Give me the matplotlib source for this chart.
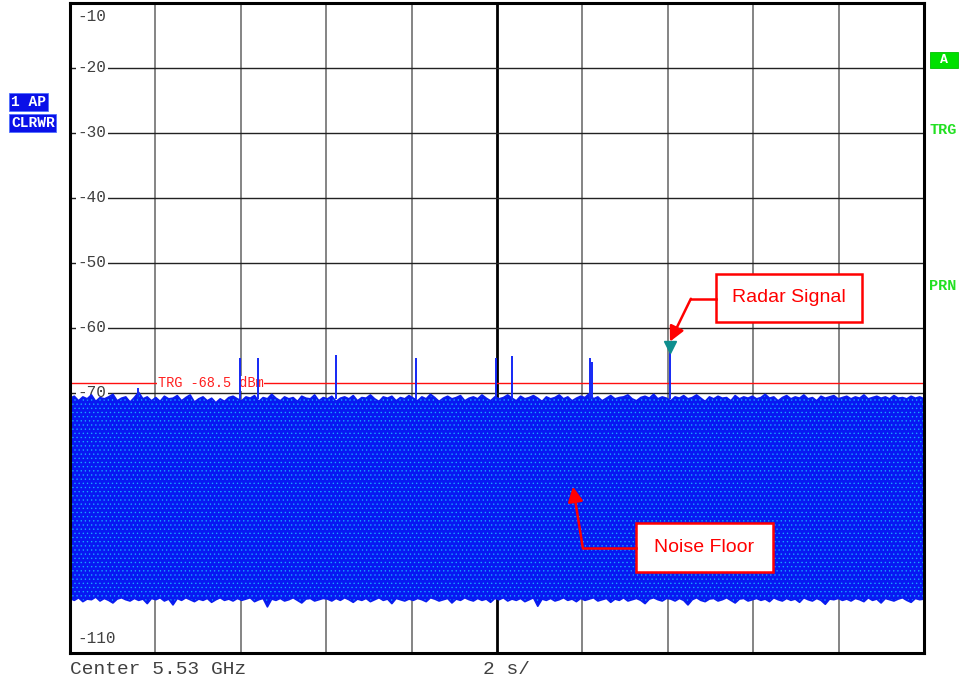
import numpy as np
import matplotlib
matplotlib.use("Agg")
import matplotlib.pyplot as plt
from matplotlib.patches import Rectangle

# ---------------- data ----------------
y_ticks = [-10, -20, -30, -40, -50, -60, -70, -80, -90, -100, -110]
y_tick_labels = ["-10", "-20", "-30", "-40", "-50", "-60", "-70", "-80", "-90", "-100", "-110"]
trigger_level = -68.5

noise_upper = [
    -70.8,-70.5,-71.2,-70.6,-70.9,-70.3,-71.3,-70.7,-70.9,-70.6,-70.2,-71.2,-70.8,-70.6,-71.4,-70.7,-69.9,-70.9,-70.6,-71.2,
    -70.7,-71.3,-70.5,-70.9,-70.8,-70.4,-71.2,-70.7,-70.3,-71.4,-70.9,-70.6,-71.2,-70.8,-71.5,-70.9,-71.3,-70.7,-70.5,-70.9,
    -71.2,-70.6,-70.8,-70.4,-71.3,-70.7,-70.9,-70.2,-70.8,-71.2,-70.6,-70.9,-70.7,-71.3,-70.5,-70.8,-70.9,-70.3,-71.2,-70.7,
    -70.9,-70.5,-71.3,-70.8,-70.6,-70.9,-70.4,-71.2,-70.7,-70.8,-70.3,-70.9,-71.3,-70.6,-70.8,-70.5,-71.2,-70.7,-70.9,-70.4,
    -70.8,-71.2,-70.6,-70.9,-70.2,-70.7,-71.3,-70.8,-70.5,-70.9,-70.7,-70.4,-71.2,-70.8,-70.6,-70.9,-70.3,-70.8,-71.2,-70.6,
    -70.9,-70.7,-70.3,-70.8,-71.2,-70.5,-70.9,-70.7,-70.4,-70.8,-71.3,-70.6,-70.9,-70.7,-70.3,-70.9,-70.6,-71.2,-70.8,-70.5,
    -70.7,-70.1,-70.9,-70.6,-71.2,-70.8,-70.4,-70.9,-70.7,-70.6,-70.3,-70.9,-71.2,-70.7,-70.5,-70.8,-70.2,-70.9,-70.6,-70.8,
    -71.2,-70.6,-70.8,-70.4,-70.9,-70.7,-70.3,-70.8,-71.3,-70.6,-70.9,-70.5,-70.8,-70.7,-71.2,-70.4,-70.9,-70.6,-70.8,-70.5,
    -70.9,-70.7,-70.2,-70.8,-70.6,-71.2,-70.7,-70.4,-70.9,-70.6,-70.8,-70.3,-70.9,-70.7,-71.2,-70.5,-70.8,-70.6,-70.4,-70.9,
    -70.7,-70.5,-70.9,-70.6,-70.8,-70.3,-70.9,-70.7,-70.5,-70.8,-70.6,-70.9,-70.4,-70.8,-70.7,-70.9,-70.5,-70.8,-70.6,-70.9,
]
noise_lower = [
    -101.6,-101.9,-101.5,-102.1,-101.7,-101.8,-101.4,-102.0,-101.6,-101.9,-102.3,-101.7,-101.5,-101.8,-102.0,-101.6,-101.9,-101.7,-102.4,-101.6,
    -101.8,-101.5,-102.0,-101.7,-102.6,-101.6,-101.9,-101.5,-101.8,-102.1,-101.7,-101.9,-101.6,-102.2,-101.8,-101.5,-101.9,-101.7,-102.0,-101.6,
    -101.9,-101.7,-101.5,-102.1,-101.8,-101.6,-102.9,-101.7,-101.9,-101.6,-102.0,-101.8,-101.5,-101.9,-102.3,-101.7,-101.6,-102.0,-101.8,-101.6,
    -101.7,-102.0,-101.6,-101.9,-101.5,-101.8,-102.2,-101.7,-101.9,-101.6,-102.1,-101.8,-101.5,-101.9,-101.7,-102.4,-101.6,-101.8,-102.0,-101.7,
    -101.9,-101.6,-101.8,-102.1,-101.5,-101.7,-102.0,-101.8,-101.6,-102.3,-101.7,-101.9,-101.5,-101.8,-102.0,-101.6,-101.9,-101.7,-102.2,-101.6,
    -101.8,-101.5,-102.0,-101.7,-101.9,-101.6,-102.1,-101.8,-101.5,-102.8,-101.7,-101.9,-101.6,-102.0,-101.8,-101.5,-101.9,-101.7,-102.1,-101.6,
    -101.9,-101.7,-101.5,-102.0,-101.8,-101.6,-102.2,-101.7,-101.9,-101.5,-102.0,-101.8,-101.6,-101.9,-102.4,-101.7,-101.5,-101.8,-102.0,-101.6,
    -101.7,-102.0,-101.6,-101.9,-102.6,-101.8,-101.5,-101.9,-102.1,-101.7,-101.6,-102.0,-101.8,-101.5,-101.9,-102.3,-101.7,-101.6,-102.0,-101.8,
    -101.6,-101.9,-101.7,-102.1,-101.5,-101.8,-102.0,-101.6,-101.9,-101.7,-102.2,-101.5,-101.8,-102.0,-101.6,-101.9,-102.5,-101.7,-101.8,-101.6,
    -101.9,-101.7,-102.0,-101.6,-101.8,-102.1,-101.5,-101.9,-101.7,-102.3,-101.6,-101.8,-102.0,-101.7,-101.5,-101.9,-102.2,-101.6,-101.8,-101.7,
]

spike_times = [1.59, 3.98, 4.40, 6.23, 8.10, 9.98, 10.35, 12.18, 12.22, 14.05]
spike_peaks = [-69.2, -64.6, -64.6, -64.1, -64.6, -64.6, -64.3, -64.6, -65.3, -63.6]
marker_time = 14.05
marker_level = -63.6

# ---------------- figure ----------------
W, H = 963, 683
fig = plt.figure(figsize=(W / 100, H / 100), dpi=100)
fig.patch.set_facecolor("white")
ax = fig.add_axes([70 / W, (H - 653) / H, 854 / W, 650 / H])
ax.set_xlim(0, 20)
ax.set_ylim(-110, -10)
ax.set_xticks([])
ax.set_yticks([])
for s in ax.spines.values():
    s.set_linewidth(2.2)
    s.set_color("black")
    s.set_zorder(10)

mono = "Liberation Mono"
sans = "Liberation Sans"

# grid
for i in range(1, 10):
    x = i * 2
    if i == 5:
        ax.axvline(x, color="black", lw=2.0, zorder=1)
    else:
        ax.axvline(x, color="#707070", lw=1.2, zorder=1)
for yv in y_ticks[1:-1]:
    ax.axhline(yv, color="#222222", lw=1.0, zorder=1)

# y tick labels inside the axes
for yv, lab in zip(y_ticks, y_tick_labels):
    if yv == -10:
        va, yy = "top", yv - 0.9
    elif yv == -110:
        va, yy = "bottom", yv + 1.0
    else:
        va, yy = "center", yv
    ax.text(0.18, yy, lab, family=mono, fontsize=11.5, color="#404040",
            ha="left", va=va, zorder=2,
            bbox=dict(facecolor="white", edgecolor="none", pad=1.2))

# trigger line
ax.axhline(trigger_level, color="#FF1010", lw=1.0, zorder=3)
ax.text(2.05, trigger_level, "TRG -68.5 dBm", family=mono, fontsize=9.8, color="#FF2020",
        ha="left", va="center", zorder=3,
        bbox=dict(facecolor="white", edgecolor="none", pad=0.3))

# noise floor
t = np.arange(len(noise_upper)) * (20 / (len(noise_upper) - 1))
plt.rcParams["hatch.linewidth"] = 0.45
ax.fill_between(t, noise_lower, noise_upper, facecolor="#0818F2",
                edgecolor="none", lw=0, zorder=4)
ax.fill_between(t, noise_lower, noise_upper, facecolor="none",
                edgecolor="#18A8FF", hatch="....", lw=0, zorder=4)
ax.plot(t, noise_upper, color="#0A1CF0", lw=1.2, zorder=4)
ax.plot(t, noise_lower, color="#0A1CF0", lw=1.2, zorder=4)

# spikes
for ts, pk in zip(spike_times, spike_peaks):
    ax.vlines(ts, -71.0, pk, color="#1428F5", lw=1.4, zorder=5)

# marker
ax.plot([marker_time], [marker_level + 0.7], marker="v", ms=8, color="#0E8E8E",
        markeredgecolor="#0E8E8E", zorder=6)

# annotations
ax.add_patch(Rectangle((15.13, -59.08), 18.55 - 15.13, 59.08 - 51.69, facecolor="white",
                       edgecolor="#FF0000", lw=1.8, zorder=8))
ax.text(16.84, -55.3, "Radar Signal", family=sans, fontsize=14, color="#FF0000",
        ha="center", va="center", zorder=9)
ax.plot([15.13, 14.54], [-55.5, -55.5], color="#FF0000", lw=1.8, zorder=8)
ax.annotate("", xy=(14.05, -62.1), xytext=(14.54, -55.5),
            arrowprops=dict(arrowstyle="-|>,head_length=0.9,head_width=0.45",
                            color="#FF0000", lw=1.8, shrinkA=0, shrinkB=0), zorder=8)

ax.add_patch(Rectangle((13.26, -97.54), 16.46 - 13.26, 97.54 - 90.0, facecolor="white",
                       edgecolor="#FF0000", lw=1.8, zorder=8))
ax.text(14.86, -93.75, "Noise Floor", family=sans, fontsize=14, color="#FF0000",
        ha="center", va="center", zorder=9)
ax.plot([13.26, 12.01], [-93.85, -93.85], color="#FF0000", lw=1.8, zorder=8)
ax.annotate("", xy=(11.78, -84.4), xytext=(12.01, -93.85),
            arrowprops=dict(arrowstyle="-|>,head_length=0.9,head_width=0.45",
                            color="#FF0000", lw=1.8, shrinkA=0, shrinkB=0), zorder=8)

# figure-level texts
def ftext(px, py, s, **kw):
    fig.text(px / W, 1 - py / H, s, **kw)

ftext(70, 669, "Center 5.53 GHz", family=mono, fontsize=14, color="#404040", ha="left", va="center")
ftext(483, 669, "2 s/", family=mono, fontsize=14, color="#404040", ha="left", va="center")

blue_box = dict(facecolor="#0A10E8", edgecolor="#5070FF", pad=1.2, lw=0.6)
ftext(11, 102, "1 AP", family=mono, fontsize=10.5, weight="bold", color="white",
      ha="left", va="center", bbox=blue_box)
ftext(11, 123, "CLRWR", family=mono, fontsize=10.5, weight="bold", color="white",
      ha="left", va="center", bbox=blue_box)

ftext(944, 60, " A ", family=mono, fontsize=9.5, weight="bold", color="white",
      ha="center", va="center",
      bbox=dict(facecolor="#00E000", edgecolor="#00C000", pad=1.5, lw=0.6))
ftext(929, 130, "TRG", family=mono, fontsize=11, weight="bold", color="#22E022",
      ha="left", va="center")
ftext(929, 286, "PRN", family=mono, fontsize=11, weight="bold", color="#22E022",
      ha="left", va="center")

fig.savefig("out.png", dpi=100, facecolor="white")
